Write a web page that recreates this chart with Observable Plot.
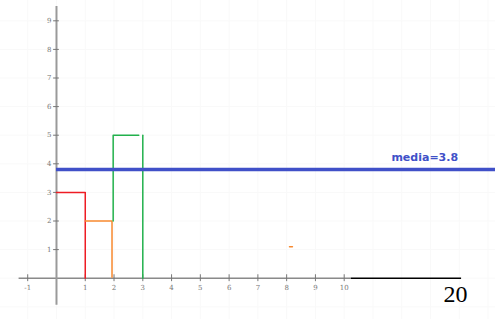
<!DOCTYPE html>
<html><head><meta charset="utf-8">
<script src="https://cdn.jsdelivr.net/npm/d3@7"></script>
<script src="https://cdn.jsdelivr.net/npm/@observablehq/plot@0.6"></script>
<style>body{margin:0;background:#fff}</style>
</head><body><div id="chart"></div>
<script>
const xTicks = [-1,1,2,3,4,5,6,7,8,9,10];
const yTicks = [1,2,3,4,5,6,7,8,9];
const redPath = [[0,3],[1,3],[1,0]];
const orangePath = [[1,2],[1.93,2],[1.93,0.03]];
const greenPath1 = [[1.97,2],[1.97,5],[2.86,5]];
const greenPath2 = [[3,5],[3,0]];
const orangeDot = [[8.1,1.1],[8.2,1.1]];
const mediaValue = 3.8;
const mediaLabel = "media=3.8";
const cornerLabel = "20";

const toRows = (pts, s) => pts.map(([x,y]) => ({x, y, s}));
const paths = [
  ...toRows(redPath, "red"), ...toRows(orangePath, "orange"),
  ...toRows(greenPath1, "g1"), ...toRows(greenPath2, "g2"), ...toRows(orangeDot, "dot")
];
const colors = {red:"#ee1c24", orange:"#f7892f", g1:"#22b14c", g2:"#22b14c", dot:"#f7892f"};
const gridX = d3.range(-1, 16);
const gridY = d3.range(-1, 10);

const chart = Plot.plot({
  width: 495, height: 319,
  marginTop: 0, marginRight: 0, marginBottom: 0, marginLeft: 0,
  x: {domain: [-1.946, 15.259], axis: null},
  y: {domain: [-1.444, 9.71], axis: null},
  style: {background: "#fff"},
  marks: [
    Plot.ruleX(gridX, {x: d => d, stroke: "#f9f9f9", strokeWidth: 1}),
    Plot.ruleY(gridY, {y: d => d, stroke: "#f9f9f9", strokeWidth: 1}),
    Plot.ruleY([0], {x1: -1.3, x2: 10.25, stroke: "#8a8a8a", strokeWidth: 1.5}),
    Plot.ruleY([0], {x1: 10.25, x2: 14.08, stroke: "#000", strokeWidth: 1.5}),
    Plot.ruleX([0], {y1: -0.95, y2: 9.5, stroke: "#9a9a9a", strokeWidth: 2}),
    Plot.ruleX(xTicks, {x: d => d, y1: -0.12, y2: 0.12, stroke: "#777", strokeWidth: 1}),
    Plot.ruleY(yTicks, {y: d => d, x1: -0.1, x2: 0.1, stroke: "#777", strokeWidth: 1}),
    Plot.text(xTicks, {x: d => d, y: 0, dy: 10, text: d => String(d), fontSize: 7, fontFamily: "DejaVu Serif", fill: "#777"}),
    Plot.text(yTicks, {x: 0, y: d => d, dx: -5, textAnchor: "end", text: d => String(d), fontSize: 7, fontFamily: "DejaVu Serif", fill: "#777"}),
    Plot.line(paths, {x: "x", y: "y", z: "s", stroke: d => colors[d.s], strokeWidth: 1.5}),
    Plot.ruleY([mediaValue], {x1: 0, x2: 15.259, stroke: "#4050c8", strokeWidth: 3.5}),
    Plot.text([mediaLabel], {x: 12.8, y: mediaValue, dy: -12, text: d => d, fontSize: 11, fontWeight: "bold", fontFamily: "DejaVu Sans", fill: "#4050c8"}),
    Plot.text([cornerLabel], {x: 13.87, y: 0, dy: 16, text: d => d, fontSize: 24, fontFamily: "Liberation Serif", fill: "#000"})
  ]
});
document.getElementById("chart").append(chart);
</script>
</body></html>
